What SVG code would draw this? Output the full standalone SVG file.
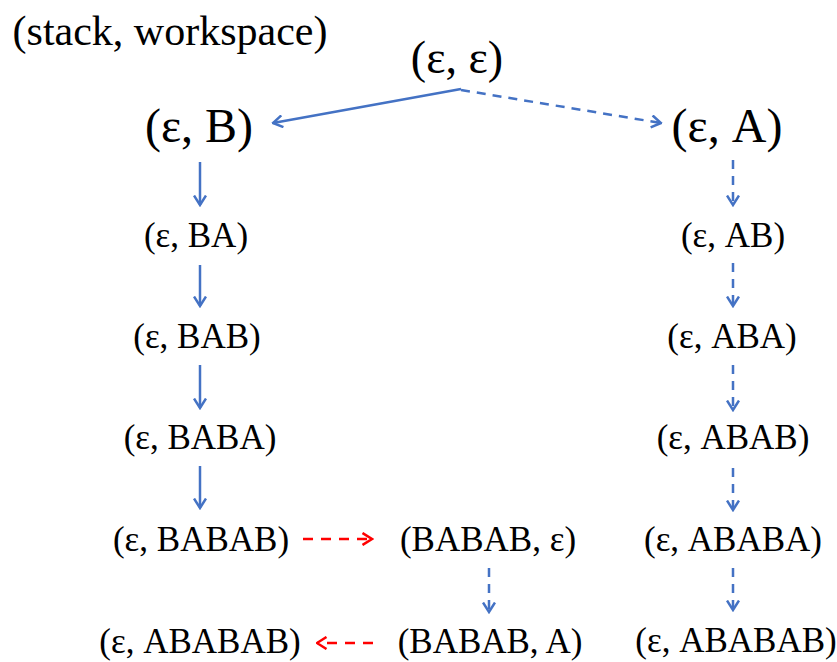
<svg xmlns="http://www.w3.org/2000/svg" width="837" height="662" viewBox="0 0 837 662" font-family="'Liberation Serif', 'DejaVu Serif', serif">
<style>
text{fill:#000;text-anchor:middle}
.big{font-size:48px}
.mid{font-size:35px}
.b{stroke:#4472C4;stroke-width:2.5;fill:none}
.r{stroke:#FF0000;stroke-width:2.5;fill:none;stroke-dasharray:10 8}
.d{stroke-dasharray:9 7}
</style>
<defs>
<marker id="ab" viewBox="0 0 12 14" markerWidth="12" markerHeight="14" refX="10.5" refY="7" orient="auto" markerUnits="userSpaceOnUse">
<path d="M1,1 L10.5,7 L1,13" fill="none" stroke="#4472C4" stroke-width="2.5"/>
</marker>
<marker id="ar" viewBox="0 0 12 14" markerWidth="12" markerHeight="14" refX="10.5" refY="7" orient="auto" markerUnits="userSpaceOnUse">
<path d="M1,1 L10.5,7 L1,13" fill="none" stroke="#FF0000" stroke-width="2.5"/>
</marker>
</defs>
<g id="title"><text x="170" y="45" font-size="42">(stack, workspace)</text></g>
<g id="root"><text x="457" y="73" font-size="46">(ε, ε)</text></g>
<g id="nB"><text class="big" x="199" y="142">(ε, B)</text></g>
<g id="nA"><text class="big" x="727" y="142">(ε, A)</text></g>
<g id="nBA"><text class="mid" x="196" y="247">(ε, BA)</text></g>
<g id="nBAB"><text class="mid" x="197" y="348">(ε, BAB)</text></g>
<g id="nBABA"><text class="mid" x="200" y="449">(ε, BABA)</text></g>
<g id="nBABAB"><text class="mid" x="201" y="551">(ε, BABAB)</text></g>
<g id="nABABAB_L"><text class="mid" x="200" y="653">(ε, ABABAB)</text></g>
<g id="nAB"><text class="mid" x="733" y="247">(ε, AB)</text></g>
<g id="nABA"><text class="mid" x="732" y="348">(ε, ABA)</text></g>
<g id="nABAB"><text class="mid" x="733" y="449">(ε, ABAB)</text></g>
<g id="nABABA"><text class="mid" x="733" y="551">(ε, ABABA)</text></g>
<g id="nABABAB_R"><text class="mid" x="736" y="652">(ε, ABABAB)</text></g>
<g id="sBABAB_e"><text class="mid" x="488" y="551">(BABAB, ε)</text></g>
<g id="sBABAB_A"><text class="mid" x="490" y="653">(BABAB, A)</text></g>
<g id="connectors">
<line class="b" x1="461" y1="89" x2="273" y2="123" marker-end="url(#ab)"/>
<line class="b d" x1="461" y1="90" x2="661" y2="123" marker-end="url(#ab)"/>
<line class="b" x1="200" y1="162" x2="200" y2="205" marker-end="url(#ab)"/>
<line class="b" x1="200" y1="265" x2="200" y2="306" marker-end="url(#ab)"/>
<line class="b" x1="200" y1="365" x2="200" y2="408" marker-end="url(#ab)"/>
<line class="b" x1="200" y1="466" x2="200" y2="508" marker-end="url(#ab)"/>
<line class="b d" x1="733" y1="160" x2="733" y2="205" marker-end="url(#ab)"/>
<line class="b d" x1="733" y1="263" x2="733" y2="306" marker-end="url(#ab)"/>
<line class="b d" x1="733" y1="365" x2="733" y2="410" marker-end="url(#ab)"/>
<line class="b d" x1="733" y1="468" x2="733" y2="510" marker-end="url(#ab)"/>
<line class="b d" x1="733" y1="568" x2="733" y2="610" marker-end="url(#ab)"/>
<line class="b d" x1="489" y1="568" x2="489" y2="612" marker-end="url(#ab)"/>
<line class="r" x1="303" y1="539" x2="372" y2="539" marker-end="url(#ar)"/>
<line class="r" x1="373" y1="643" x2="317" y2="643" marker-end="url(#ar)"/>
</g>
</svg>
